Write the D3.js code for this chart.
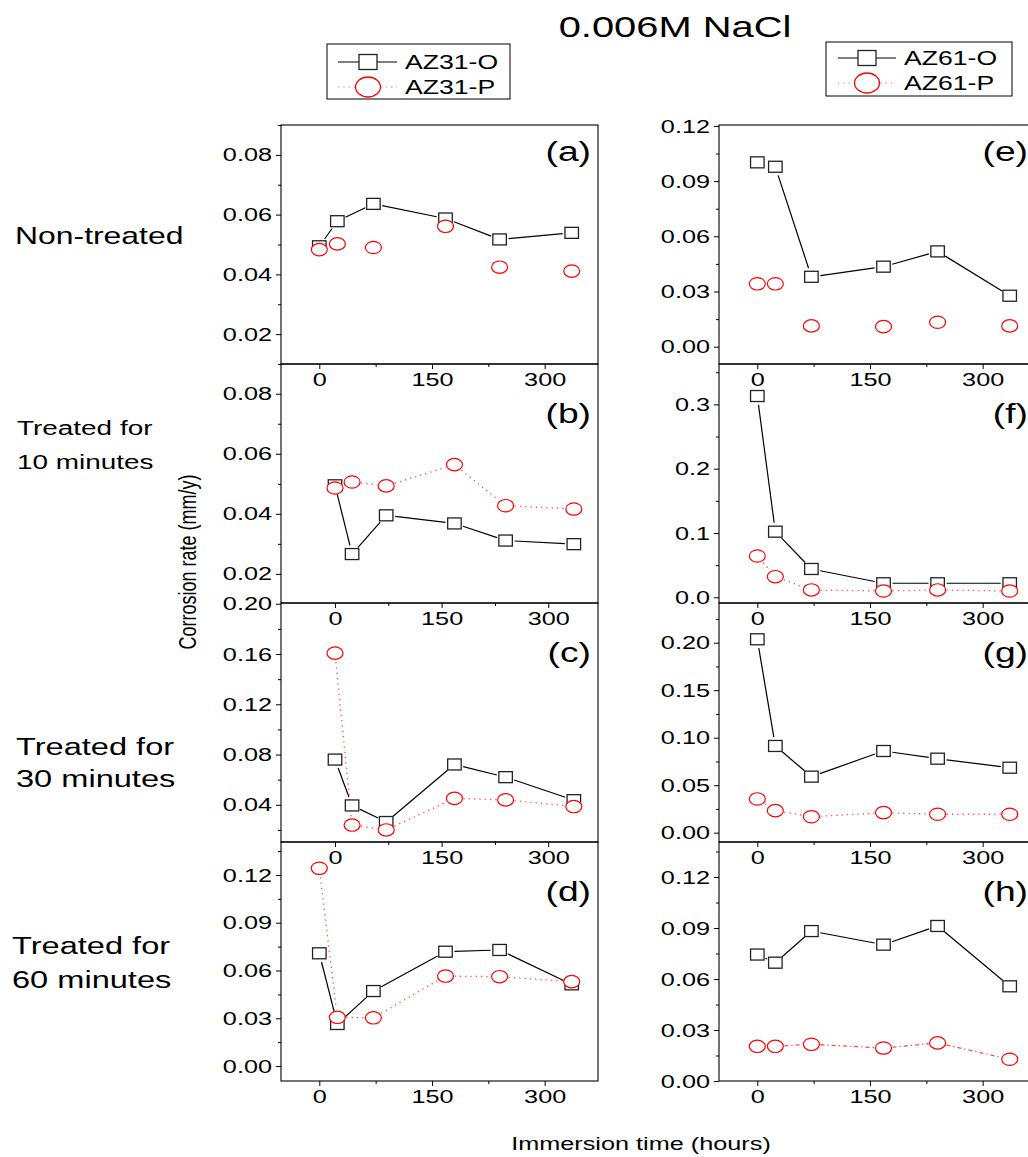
<!DOCTYPE html>
<html><head><meta charset="utf-8">
<script src="https://cdn.jsdelivr.net/npm/d3@7"></script>
<style>
html,body{margin:0;padding:0;background:#fff;}
text{font-family:"Liberation Sans",Arial,sans-serif;fill:#000;}
</style></head>
<body><svg id="c" width="1028" height="1157"></svg>
<script>
// ---------------- data ----------------
const times = [0, 24, 72, 168, 240, 336];
const xTickValues = [0, 150, 300];
const xMinorValues = [-75, 75, 225];

const az31O_non  = [0.0494, 0.0578, 0.0636, 0.0587, 0.0517, 0.0539];
const az31P_non  = [0.0483, 0.0502, 0.0490, 0.0561, 0.0424, 0.0411];
const az31O_10   = [0.0495, 0.0266, 0.0395, 0.0368, 0.0311, 0.0299];
const az31P_10   = [0.0486, 0.0506, 0.0493, 0.0564, 0.0427, 0.0416];
const az31O_30   = [0.0760, 0.0395, 0.0263, 0.0721, 0.0620, 0.0437];
const az31P_30   = [0.1607, 0.0239, 0.0200, 0.0451, 0.0439, 0.0386];
const az31O_60   = [0.0708, 0.0264, 0.0471, 0.0718, 0.0729, 0.0513];
const az31P_60   = [0.1242, 0.0306, 0.0303, 0.0565, 0.0561, 0.0530];

const az61O_non  = [0.1002, 0.0978, 0.0380, 0.0435, 0.0518, 0.0277];
const az61P_non  = [0.0342, 0.0342, 0.0113, 0.0109, 0.0133, 0.0113];
const az61O_10   = [0.313, 0.102, 0.044, 0.0218, 0.0218, 0.0218];
const az61P_10   = [0.0642, 0.0320, 0.0114, 0.0098, 0.0114, 0.0098];
const az61O_30   = [0.2036, 0.0913, 0.0590, 0.0860, 0.0779, 0.0684];
const az61P_30   = [0.0355, 0.0232, 0.0168, 0.0211, 0.0194, 0.0194];
const az61O_60   = [0.0744, 0.0696, 0.0882, 0.0802, 0.0912, 0.0557];
const az61P_60   = [0.0204, 0.0204, 0.0216, 0.0194, 0.0224, 0.0128];

const panelLetters = ["(a)","(b)","(c)","(d)","(e)","(f)","(g)","(h)"];
const seriesNames = ["AZ31-O","AZ31-P","AZ61-O","AZ61-P"];
const rowLabels = [["Non-treated"],["Treated for","10 minutes"],["Treated for","30 minutes"],["Treated for","60 minutes"]];
const titleText = "0.006M NaCl";
const yTitle = "Corrosion rate (mm/y)";
const xTitle = "Immersion time (hours)";

// ---------------- layout ----------------
const SX = 1.33; // horizontal text stretch seen in reference
const colX = [281, 719], PW = 317;
const rowY = [125, 364, 603, 842], PH = 239;

const panels = [
 {col:0,row:0,xd:[-51,371],yd:[0.01,0.09],maj:0.02,min:0.01,dec:2,O:az31O_non,P:az31P_non,pLine:null},
 {col:0,row:1,xd:[-76,370],yd:[0.0103,0.0899],maj:0.02,min:0.01,dec:2,O:az31O_10,P:az31P_10,pLine:"1.3,4"},
 {col:0,row:2,xd:[-76,370],yd:[0.0104,0.2006],maj:0.04,min:0.02,dec:2,O:az31O_30,P:az31P_30,pLine:"1.3,4"},
 {col:0,row:3,xd:[-51,371],yd:[-0.0094,0.1407],maj:0.03,min:0.015,dec:2,O:az31O_60,P:az31P_60,pLine:"1.3,4"},
 {col:1,row:0,xd:[-51,371],yd:[-0.0094,0.1205],maj:0.03,min:0.015,dec:2,O:az61O_non,P:az61P_non,pLine:null},
 {col:1,row:1,xd:[-51,371],yd:[-0.0089,0.3628],maj:0.1,min:0.05,dec:1,O:az61O_10,P:az61P_10,pLine:"1.3,4"},
 {col:1,row:2,xd:[-51,371],yd:[-0.0098,0.2418],maj:0.05,min:0.025,dec:2,O:az61O_30,P:az61P_30,pLine:"1.3,4"},
 {col:1,row:3,xd:[-51,371],yd:[0,0.1406],maj:0.03,min:0.015,dec:2,O:az61O_60,P:az61P_60,pLine:"4,3,1.3,3"},
];

const svg = d3.select("#c");

function stext(g, x, y, str, size, anchor){
  return g.append("text").attr("transform",`translate(${x},${y}) scale(${SX},1)`)
    .attr("text-anchor",anchor||"start").attr("font-size",size).text(str);
}
function stepVals(d, step){
  const out=[]; const k0=Math.ceil(d[0]/step-1e-6), k1=Math.floor(d[1]/step+1e-6);
  for(let k=k0;k<=k1;k++) out.push(+(k*step).toFixed(6));
  return out;
}
function gapSegs(pts, gap){
  const segs=[];
  for(let i=0;i<pts.length-1;i++){
    const [x1,y1]=pts[i],[x2,y2]=pts[i+1];
    const dx=x2-x1, dy=y2-y1, L=Math.hypot(dx,dy);
    if(L<=2*gap+1) continue;
    const ux=dx/L, uy=dy/L;
    segs.push([[x1+ux*gap,y1+uy*gap],[x2-ux*gap,y2-uy*gap]]);
  }
  return segs;
}
const line = d3.line();

panels.forEach((p,i)=>{
  const x0=colX[p.col], y0=rowY[p.row];
  const g = svg.append("g").attr("transform",`translate(${x0},${y0})`);
  const x = d3.scaleLinear().domain(p.xd).range([0,PW]);
  const y = d3.scaleLinear().domain(p.yd).range([PH,0]);
  const fmt = d3.format(`.${p.dec}f`);
  const majors = stepVals(p.yd,p.maj);
  const minors = stepVals(p.yd,p.min).filter(v=>!majors.some(m=>Math.abs(m-v)<1e-6));

  g.append("g").call(d3.axisLeft(y).tickValues(minors).tickSize(3).tickFormat(""))
    .call(a=>a.select(".domain").remove());
  const ya = g.append("g").call(d3.axisLeft(y).tickValues(majors).tickSize(5).tickFormat(fmt))
    .call(a=>a.select(".domain").remove());
  ya.selectAll("text").attr("x",-9/SX).attr("transform",`scale(${SX},1)`)
    .attr("font-size",19).attr("font-family",null);
  const xm = xMinorValues.filter(v=>v>p.xd[0]+3 && v<p.xd[1]-3);
  g.append("g").attr("transform",`translate(0,${PH})`)
    .call(d3.axisBottom(x).tickValues(xm).tickSize(3).tickFormat(""))
    .call(a=>a.select(".domain").remove());
  const xa = g.append("g").attr("transform",`translate(0,${PH})`)
    .call(d3.axisBottom(x).tickValues(xTickValues).tickSize(5).tickFormat(d3.format("d")))
    .call(a=>a.select(".domain").remove());
  xa.selectAll("text").attr("y",9).attr("transform",`scale(${SX},1)`)
    .attr("font-size",19).attr("font-family",null);
  g.selectAll(".tick line").attr("stroke","#000").attr("stroke-width",1);

  g.append("rect").attr("x",0).attr("y",0).attr("width",PW).attr("height",PH)
    .attr("fill","none").attr("stroke","#000").attr("stroke-width",1.1);

  const ptsO = times.map((t,j)=>[x(t),y(p.O[j])]);
  const ptsP = times.map((t,j)=>[x(t),y(p.P[j])]);
  gapSegs(ptsO,9).forEach(s=>g.append("path").attr("d",line(s)).attr("fill","none")
    .attr("stroke","#000").attr("stroke-width",1.2));
  if(p.pLine){
    gapSegs(ptsP,9).forEach(s=>g.append("path").attr("d",line(s)).attr("fill","none")
      .attr("stroke","#ff2020").attr("stroke-width",1.3).attr("stroke-dasharray",p.pLine)
      .attr("stroke-opacity",0.8));
  }
  g.selectAll("rect.sq").data(ptsO).join("rect").attr("class","sq")
    .attr("x",d=>d[0]-6.75).attr("y",d=>d[1]-5.5).attr("width",13.5).attr("height",11)
    .attr("fill","#fff").attr("stroke","#222").attr("stroke-width",1.3);
  g.selectAll("ellipse.ci").data(ptsP).join("ellipse").attr("class","ci")
    .attr("cx",d=>d[0]).attr("cy",d=>d[1]).attr("rx",8).attr("ry",6.2)
    .attr("fill","#fff").attr("stroke","#f00").attr("stroke-width",1.2);

  const lx = p.col===0 ? PW-7 : PW-8;
  const ly = p.row===0 ? 36 : 59;
  stext(g, lx, ly, panelLetters[i], 28, "end");
});

stext(svg, 675, 37, titleText, 30, "middle");

function legend(bx, by, bw, bh, r1, r2, lx1, lx2, sx, tx, names){
  svg.append("rect").attr("x",bx).attr("y",by).attr("width",bw).attr("height",bh)
    .attr("fill","#fff").attr("stroke","#000").attr("stroke-width",1);
  svg.append("path").attr("d",line([[lx1,r1],[lx2,r1]])).attr("stroke","#000").attr("stroke-width",1.2);
  svg.append("rect").attr("x",sx-9).attr("y",r1-7.5).attr("width",18).attr("height",15)
    .attr("fill","#fff").attr("stroke","#222").attr("stroke-width",1.3);
  svg.append("path").attr("d",line([[lx1,r2],[lx2,r2]])).attr("stroke","#ff2020")
    .attr("stroke-width",1.2).attr("stroke-dasharray","1.3,4").attr("stroke-opacity",0.7);
  svg.append("ellipse").attr("cx",sx).attr("cy",r2).attr("rx",12.5).attr("ry",10)
    .attr("fill","#fff").attr("stroke","#f00").attr("stroke-width",1.3);
  stext(svg, tx, r1+7, names[0], 20, "start");
  stext(svg, tx, r2+7, names[1], 20, "start");
}
legend(327,44,183,55,62,87,338,397,368,405,[seriesNames[0],seriesNames[1]]);
legend(826,42,186,54,58,83,838,896,867,904,[seriesNames[2],seriesNames[3]]);

const rowStyle = [
  {x:15,size:24,ys:[244]},
  {x:17,size:21,ys:[435,469]},
  {x:16,size:24.5,ys:[755,787]},
  {x:12,size:24.5,ys:[954,988]},
];
rowLabels.forEach((lines,r)=>{
  lines.forEach((t,k)=>stext(svg,rowStyle[r].x,rowStyle[r].ys[k],t,rowStyle[r].size,"start"));
});

svg.append("text").attr("transform",`translate(188,562) scale(${SX},1) rotate(-90)`)
  .attr("text-anchor","middle").attr("dy","0.35em").attr("font-size",18).text(yTitle);
stext(svg, 641, 1150, xTitle, 19, "middle");
</script></body></html>
